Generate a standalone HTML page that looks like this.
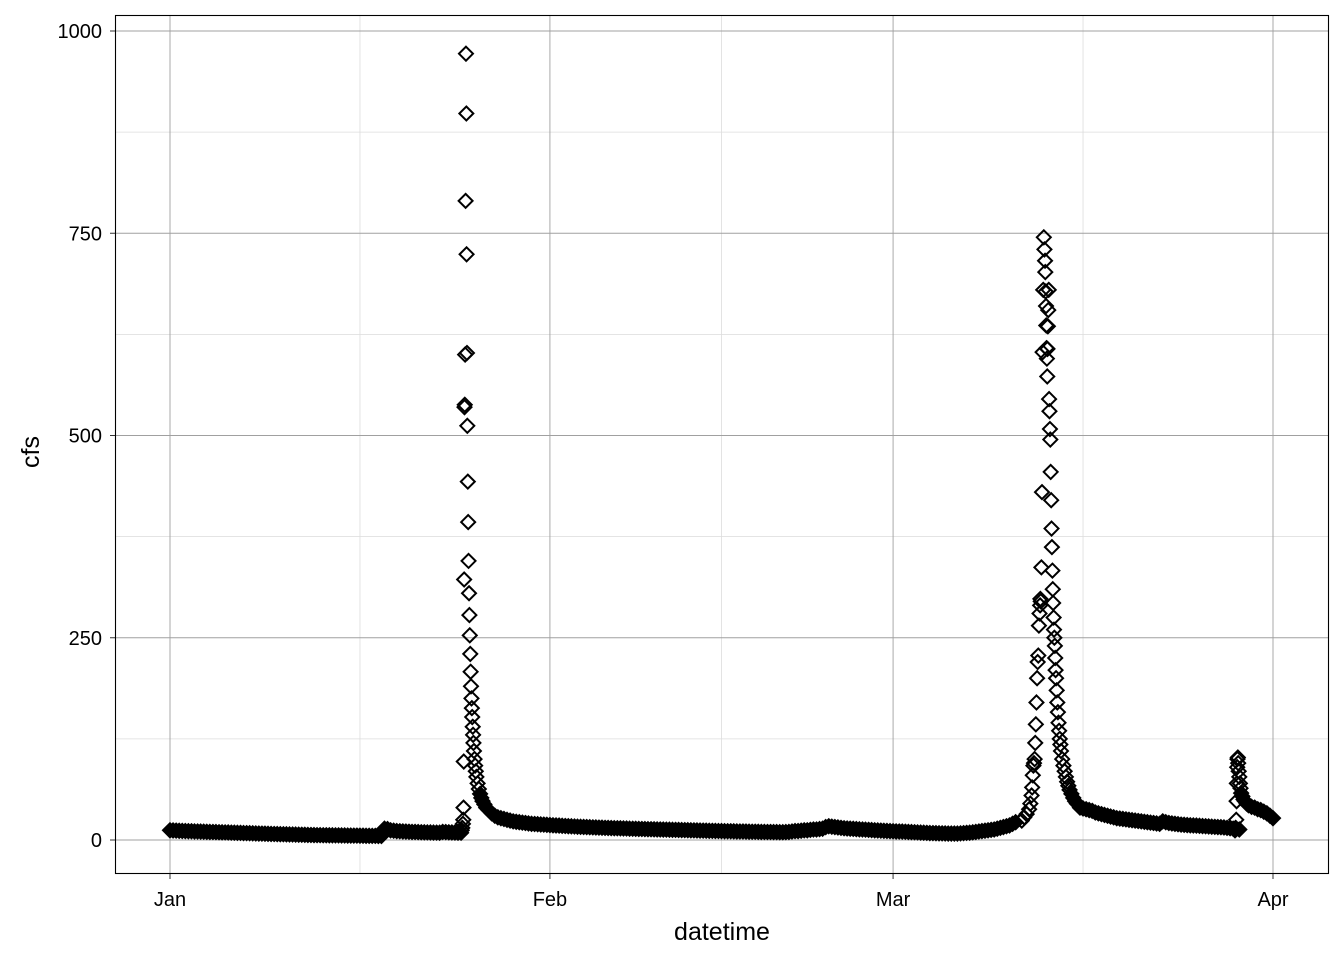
<!DOCTYPE html>
<html><head><meta charset="utf-8"><style>
html,body{margin:0;padding:0;background:#fff;}
svg text{font-family:"Liberation Sans",Arial,sans-serif;}
</style></head><body>
<svg id="chart" width="1344" height="960" viewBox="0 0 1344 960" xmlns="http://www.w3.org/2000/svg">
<rect x="0" y="0" width="1344" height="960" fill="#fff"/>
<g id="grid"></g>
<g id="pts" fill="none" stroke="#000" stroke-width="2"></g>
<rect x="115.5" y="15.5" width="1213" height="858" fill="none" stroke="#000" stroke-width="1.1"/>
<g id="axes"></g>
<text x="722" y="940" font-size="25" text-anchor="middle" fill="#000">datetime</text>
<text x="39" y="452" font-size="25" text-anchor="middle" fill="#000" transform="rotate(-90 39 452)">cfs</text>
</svg>
<script>
// ---- data (days since Jan 1, values in cfs) ----
const yTicks = [0, 250, 500, 750, 1000];
const yTickLabels = ["0", "250", "500", "750", "1000"];
const yMinor = [125, 375, 625, 875];
const xTicks = [0, 31, 59, 90];
const xTickLabels = ["Jan", "Feb", "Mar", "Apr"];
const xMinor = [15.5, 45, 74.5];

// regular segments: start day, step, values
const segAStart = 0, segAStep = 0.25;
const segAValues = [12,11.8,11.6,11.4,11.2,11,10.9,10.8,10.6,10.5,10.4,10.3,10.1,10,9.9,9.8,9.6,9.5,9.4,9.3,9.1,9,8.9,8.8,8.6,8.5,8.4,8.3,8.1,8,7.9,7.8,7.6,7.5,7.4,7.3,7.2,7.1,7,6.9,6.8,6.7,6.6,6.5,6.4,6.3,6.2,6.1,6,6,5.9,5.9,5.8,5.8,5.7,5.7,5.6,5.6,5.5,5.5,5.4,5.4,5.3,5.3,5.2,5.2,5.1,5.1,5,5,14,13.5,12,11.5,11,10.8,10.6,10.4,10.2,10,10,9.8,9.6,9.5,9.4,9.3,9.2,9.1,9,10,9.8,9.5,9.3,9.2,9,9];
const segBStart = 27, segBStep = 0.25;
const segBValues = [27,26,25,24,23,22.5,22,21.5,21,20.5,20,19.8,19.5,19.2,19,18.8,18.5,18.2,18,17.8,17.5,17.3,17.1,16.9,16.7,16.5,16.3,16.1,16,15.8,15.6,15.5,15.3,15.2,15,14.9,14.8,14.6,14.5,14.4,14.3,14.2,14,13.9,13.8,13.7,13.6,13.5,13.4,13.3,13.2,13.1,13,12.9,12.8,12.7,12.6,12.5,12.4,12.3,12.2,12.1,12,11.9,11.8,11.7,11.6,11.5,11.4,11.3,11.2,11.1,11,10.9,10.8,10.8,10.7,10.6,10.5,10.5,10.4,10.3,10.2,10.2,10.1,10,10,9.9,9.9,9.8,9.8,9.7,9.7,9.8,10,10.5,11,11,11.5,12,12,12.5,13,13,13.5,14,16,17,16.5,16,15.5,15,14.5,14.2,14,13.8,13.5,13.2,13,12.8,12.5,12.3,12,11.8,11.6,11.4,11.2,11,10.8,10.6,10.5,10.4,10.2,10,9.8,9.6,9.4,9.2,9,8.8,8.6,8.5,8.4,8.3,8.2,8.1,8,8,8,8,8.2,8.5,8.8,9,9.5,10,10.5,11,11.5,12,12.5,13,14,15,16,17,18,20,22];
const segCStart = 74.25, segCStep = 0.25;
const segCValues = [40,39,38,37,36,34,33,32,31,30,29,28,27,26.5,26,25.5,25,24.5,24,23.5,23,22.5,22,21.5,21,20.5,20,23,22,21,20.5,20,19.5,19,18.8,18.5,18.2,18,17.8,17.5,17.2,17,16.8,16.5,16.2,16,15.8,15.5,15,14.5,14,13.5,13];
const segDStart = 88.25, segDStep = 0.25;
const segDValues = [41,40,38,37,35,33,30,27];

// event points: times and values
const peak1Times = [23.8,23.85,23.9,23.93,23.95,23.97,24.0,24.03,24.05,24.08,24.12,24.15,24.18,24.2,24.23,24.26,24.3,24.33,24.36,24.4,24.43,24.46,24.5,24.53,24.56,24.6,24.63,24.66,24.7,24.73,24.76,24.8,24.85,24.9,24.95,25,25.1,25.2,25.3,25.4,25.5,25.65,25.8,26,26.25,26.5,26.75];
const peak1Values = [12,15,20,25,40,97,322,535,538,600,790,972,898,724,602,512,443,393,345,305,278,253,230,208,190,175,163,152,140,130,120,110,100,92,85,78,70,63,57,52,48,44,40,37,33,30,28];
const peak2Times = [69.5,69.7,69.9,70.1,70.2,70.3,70.35,70.4,70.45,70.5,70.55,70.6,70.65,70.7,70.75,70.8,70.85,70.9,70.95,71.0,71.02,71.05,71.1,71.15,71.2,71.25,71.3,71.35,71.4,71.42,71.45,71.48,71.5,71.52,71.55,71.58,71.6,71.63,71.66,71.7,71.73,71.76,71.8,71.83,71.86,71.9,71.93,71.96,72.0,72.03,72.06,72.1,72.13,72.16,72.2,72.23,72.26,72.3,72.35,72.4,72.45,72.5,72.55,72.6,72.65,72.7,72.8,72.9,73.0,73.1,73.2,73.3,73.4,73.55,73.7,73.85,74.0];
const peak2Values = [24,28,32,38,45,55,65,80,92,95,100,120,143,170,200,220,228,265,280,290,298,295,337,430,603,680,745,730,716,702,678,660,636,608,595,573,607,635,655,680,545,530,508,495,455,420,385,362,333,310,293,275,260,250,240,225,210,200,185,170,158,145,135,125,118,110,100,92,85,78,72,67,62,57,52,48,45];
const spikeTimes = [86.9,86.95,87.0,87.03,87.05,87.08,87.1,87.13,87.16,87.2,87.25,87.3,87.35,87.4,87.5,87.6,87.7,87.85,88];
const spikeValues = [12,15,25,48,70,90,100,102,95,85,78,70,64,58,54,50,48,45,43];

// ---- scales ----
const X0 = 170, PX_PER_DAY = (1273 - 170) / 90;
const Y0 = 840, PX_PER_UNIT = (840 - 31) / 1000;
const xs = d => X0 + d * PX_PER_DAY;
const ys = v => Y0 - v * PX_PER_UNIT;
const NS = "http://www.w3.org/2000/svg";
const grid = document.getElementById('grid');
const axes = document.getElementById('axes');
const pts = document.getElementById('pts');

function line(parent, x1, y1, x2, y2, stroke, w) {
  const l = document.createElementNS(NS, 'line');
  l.setAttribute('x1', x1); l.setAttribute('y1', y1);
  l.setAttribute('x2', x2); l.setAttribute('y2', y2);
  l.setAttribute('stroke', stroke); l.setAttribute('stroke-width', w);
  parent.appendChild(l);
  return l;
}
yMinor.forEach(v => {
  const l = line(grid, 115, ys(v), 1329, ys(v), '#dcdcdc', 0.8);
  
  
});
xMinor.forEach(d => {
  const l = line(grid, xs(d), 15, xs(d), 874, '#dcdcdc', 0.8);
  
  
});
yTicks.forEach((v, i) => {
  const l = line(grid, 115, ys(v), 1329, ys(v), '#a0a0a0', 0.9);
  
  
  const t = line(axes, 110, ys(v), 115, ys(v), '#333', 1);
  
  
  const tx = document.createElementNS(NS, 'text');
  tx.setAttribute('x', 102); tx.setAttribute('y', ys(v) + 7);
  tx.setAttribute('text-anchor', 'end'); tx.setAttribute('font-size', '20');
  tx.setAttribute('fill', '#000');
  tx.textContent = yTickLabels[i];
  
  
  axes.appendChild(tx);
});
xTicks.forEach((d, i) => {
  const l = line(grid, xs(d), 15, xs(d), 874, '#a0a0a0', 0.9);
  
  
  const t = line(axes, xs(d), 874, xs(d), 879, '#333', 1);
  
  
  const tx = document.createElementNS(NS, 'text');
  tx.setAttribute('x', xs(d)); tx.setAttribute('y', 906);
  tx.setAttribute('text-anchor', 'middle'); tx.setAttribute('font-size', '20');
  tx.setAttribute('fill', '#000');
  tx.textContent = xTickLabels[i];
  
  
  axes.appendChild(tx);
});

function diamond(d, v, solid) {
  const cx = xs(d), cy = ys(v), h = 7;
  const p = document.createElementNS(NS, 'polygon');
  p.setAttribute('points', `${cx},${cy-h} ${cx+h},${cy} ${cx},${cy+h} ${cx-h},${cy}`);
  if (solid) p.setAttribute('fill', '#000');
  
  
  pts.appendChild(p);
}
function drawSeg(start, step, vals) { vals.forEach((v, i) => diamond(start + i * step, v, true)); }
function drawPairs(ts, vs) {
  const imax = vs.indexOf(Math.max(...vs));
  ts.forEach((t, i) => diamond(t, vs[i], i > imax && vs[i] < 60));
}
drawSeg(segAStart, segAStep, segAValues);
drawPairs(peak1Times, peak1Values);
drawSeg(segBStart, segBStep, segBValues);
drawPairs(peak2Times, peak2Values);
drawSeg(segCStart, segCStep, segCValues);
drawPairs(spikeTimes, spikeValues);
drawSeg(segDStart, segDStep, segDValues);
</script>
</body></html>
